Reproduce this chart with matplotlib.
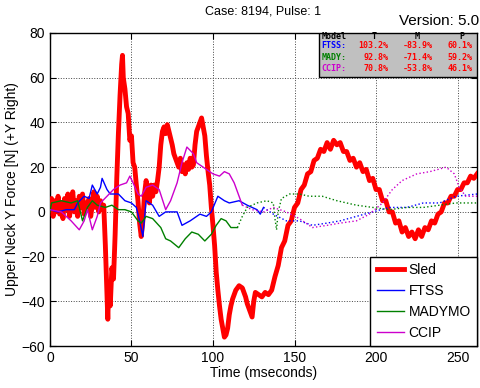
import matplotlib
matplotlib.use("Agg")
import matplotlib.pyplot as plt

# Sled test (red, noisy)
sled_t = [0, 1, 2, 3, 4, 5, 6, 7, 8, 9, 10, 11, 12, 13, 14, 15, 16, 17, 18, 19,
          20, 21, 22, 23, 24, 25, 26, 27, 28, 29, 30, 31, 32, 33, 34, 35, 35.5, 36, 37, 38,
          39, 40, 41, 42, 43, 44, 44.5, 45, 46, 47, 48, 49, 50, 51, 52, 53, 54, 55, 56, 57,
          58, 59, 60, 61, 62, 63, 64, 65, 66, 67, 68, 69, 70, 71, 72, 73, 74, 75, 76, 77,
          78, 79, 80, 81, 82, 83, 84, 85, 86, 87, 88, 89, 90, 91, 92, 93, 94, 95, 96, 97,
          98, 99, 100, 101, 102, 103, 104, 105, 106, 107, 108, 109, 110, 111, 112, 113, 114, 116, 118, 120,
          121, 123, 124, 125, 126, 128, 130, 132, 134, 136, 138, 140, 142, 144, 146, 148, 150, 152, 154, 156,
          158, 160, 162, 164, 166, 168, 170, 172, 174, 176, 178, 180, 182, 184, 186, 188, 190, 192, 194, 196,
          198, 200, 202, 204, 206, 208, 210, 212, 214, 216, 218, 220, 222, 224, 226, 228, 230, 232, 234, 236,
          238, 240, 242, 244, 246, 248, 250, 252, 254, 256, 258, 260, 262]
sled_v = [2, 6, -2, 5, 0, 7, -1, 4, -3, 6, 1, 8, -2, 3, 9, 0, 5, -2, 7, 2,
          8, -1, 4, 1, 6, -2, 3, 9, 2, 7, 0, 5, 1, 3, -15, -38, -48, -35, -42, -25,
          -30, -10, 15, 35, 52, 66, 70, 60, 55, 47, 44, 32, 34, 22, 20, 12, 5, -5, -11, -4,
          8, 14, 10, 4, 12, 7, 12, 9, 14, 20, 30, 36, 38, 35, 39, 36, 33, 30, 26, 24,
          22, 20, 24, 18, 21, 17, 22, 19, 24, 20, 21, 30, 36, 38, 40, 42, 38, 34, 25, 18,
          12, 2, -6, -15, -27, -35, -42, -48, -52, -56, -55, -52, -46, -42, -39, -37, -35, -33, -34, -38,
          -41, -45, -47, -40, -36, -37, -38, -36, -37, -35, -29, -24, -16, -13, -6, -4, 2, 4, 10, 12,
          17, 18, 23, 24, 28, 27, 31, 28, 32, 30, 31, 27, 27, 23, 24, 20, 22, 18, 19, 14,
          15, 10, 10, 5, 5, 0, 0, -5, -4, -9, -7, -11, -9, -12, -8, -11, -7, -8, -4, -5,
          -1, 0, 4, 4, 7, 7, 10, 10, 13, 13, 16, 15, 17]

# FTSS (blue)
ftss_t = [0, 5, 10, 15, 17, 21, 24, 26, 29, 31, 32, 35, 37, 42, 46, 50, 53, 55, 57, 59,
          63, 67, 71, 78, 81, 86, 92, 96, 99, 103, 107, 110, 116, 121, 127, 129, 131]
ftss_v = [1, 0, 1, 1, 4, 7, 6, 12, 8, 11, 15, 10, 8, 8, 5, 4, 2, -4, -11, 5,
          3, -2, 0, 0, -6, -4, -1, -2, 0, 7, 5, 4, 5, 3, 1, -1, 2]
ftss_td = [131, 137, 145, 153, 161, 170, 178, 188, 198, 208, 219, 229, 239, 249, 262]
ftss_vd = [2, -1, -4, -4, -6, -5, -4, -2, 0, 2, 2, 4, 4, 7, 8]

# MADYMO (green)
mady_t = [0, 1, 7, 13, 17, 20, 23, 26, 29, 34, 38, 42, 46, 50, 54, 56, 59, 63, 68, 71,
          74, 79, 83, 87, 91, 95, 99, 102, 105, 108, 111, 115]
mady_v = [0, 4, 5, 4, 5, -4, 2, 5, 3, 2, 3, 1, 1, 0, -4, -5, -2, -3, -7, -12,
          -13, -16, -12, -9, -10, -13, -10, -6, -3, -4, -7, -7]
mady_td = [115, 118, 121, 127, 133, 137, 138, 139, 140, 142, 147, 153, 159, 167, 176, 182, 188, 198,
           208, 219, 229, 239, 249, 262]
mady_vd = [-7, -2, 2, 4, 5, 4, -3, -8, 0, 6, 8, 8, 7, 7, 5, 4, 3, 2,
           1, 2, 2, 3, 4, 4]

# CCIP (magenta)
ccip_t = [0, 7, 13, 18, 21, 23, 26, 29, 31, 35, 39, 43, 47, 49, 51, 54, 56, 59, 63, 67,
          71, 74, 78, 81, 84, 88, 90, 96, 100, 104, 107, 110, 113, 116, 118]
ccip_v = [1, 0, -4, -8, -4, 1, -8, -2, 4, 7, 10, 12, 13, 16, 13, 8, 7, 11, 12, 10,
          1, 5, 13, 22, 29, 26, 22, 19, 17, 16, 18, 17, 13, 7, 3]
ccip_td = [118, 124, 131, 137, 145, 153, 161, 170, 178, 188, 196, 204, 210, 216, 225, 233, 243,
           248, 251, 255, 262]
ccip_vd = [3, 1, 0, 2, 0, -3, -7, -6, -5, -4, -1, 4, 10, 14, 17, 18, 20,
           17, 11, 7, 7]

stat_models = ["FTSS:", "MADY:", "CCIP:"]
stat_T = ["103.2%", "92.8%", "70.8%"]
stat_M = ["-83.9%", "-71.4%", "-53.8%"]
stat_P = ["60.1%", "59.2%", "46.1%"]
stat_colors = ["blue", "green", "#cc00cc"]

plt.rcParams['font.family'] = ['Liberation Sans', 'DejaVu Sans']

fig = plt.figure(figsize=(4.8, 3.88), dpi=100)
ax = fig.add_axes([0.104, 0.108, 0.890, 0.807])

ax.plot(sled_t, sled_v, color='red', lw=3.5, label='Sled', zorder=3)
ax.plot(ftss_t, ftss_v, color='blue', lw=1.0, label='FTSS', zorder=4)
ax.plot(ftss_td, ftss_vd, color='blue', lw=1.0, ls=':', zorder=4)
ax.plot(mady_t, mady_v, color='green', lw=1.0, label='MADYMO', zorder=4)
ax.plot(mady_td, mady_vd, color='green', lw=1.0, ls=':', zorder=4)
ax.plot(ccip_t, ccip_v, color='#cc00cc', lw=1.0, label='CCIP', zorder=4)
ax.plot(ccip_td, ccip_vd, color='#cc00cc', lw=1.0, ls=':', zorder=4)

ax.set_xlim(0, 262)
ax.set_ylim(-60, 80)
ax.set_xticks([0, 50, 100, 150, 200, 250])
ax.set_yticks([-60, -40, -20, 0, 20, 40, 60, 80])
ax.tick_params(direction='in', top=True, right=True, labelsize=10, length=4)
ax.grid(True, ls=':', color='#444444', lw=0.7)
for s in ax.spines.values():
    s.set_linewidth(1.0)

ax.set_xlabel('Time (mseconds)', fontsize=10, labelpad=1)
ax.set_ylabel('Upper Neck Y Force [N] (+Y Right)', fontsize=10, labelpad=2)
ax.set_title('Case: 8194, Pulse: 1', fontsize=9, pad=13)
fig.text(0.998, 0.928, 'Version: 5.0', ha='right', va='bottom', fontsize=11)

leg = ax.legend(loc='lower right', fontsize=10, borderaxespad=0, fancybox=False,
                framealpha=1, edgecolor='black', handlelength=2.0, handletextpad=0.3,
                labelspacing=0.5, borderpad=0.45)
leg.get_frame().set_linewidth(1.0)

# stats table in upper right corner
tb = dict(fontsize=6, family='DejaVu Sans Mono', fontweight='bold', va='center')
box = plt.Rectangle((0.63, 0.86), 0.37, 0.14, transform=ax.transAxes,
                    facecolor='#c0c0c0', edgecolor='black', lw=1.0, zorder=6)
ax.add_patch(box)
ax.text(0.636, 0.99, 'Model', transform=ax.transAxes, color='black', ha='left', zorder=7, **tb)
for x, h in zip([0.76, 0.86, 0.965], ['T', 'M', 'P']):
    ax.text(x, 0.99, h, transform=ax.transAxes, color='black', ha='center', zorder=7, **tb)
for i in range(len(stat_models)):
    y = 0.96 - i * 0.037
    ax.text(0.636, y, stat_models[i], transform=ax.transAxes, color=stat_colors[i],
            ha='left', zorder=7, **tb)
    ax.text(0.793, y, stat_T[i], transform=ax.transAxes, color='red', ha='right', zorder=7, **tb)
    ax.text(0.895, y, stat_M[i], transform=ax.transAxes, color='red', ha='right', zorder=7, **tb)
    ax.text(0.99, y, stat_P[i], transform=ax.transAxes, color='red', ha='right', zorder=7, **tb)

plt.savefig('out.png', dpi=100)
